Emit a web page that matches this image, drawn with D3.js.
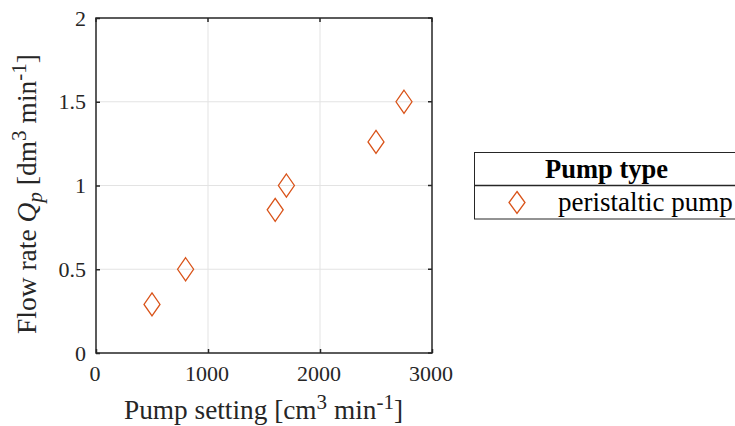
<!DOCTYPE html>
<html><head><meta charset="utf-8">
<script src="https://cdn.jsdelivr.net/npm/d3@7"></script>
<style>body{margin:0;background:#fff}svg{display:block;font-family:"Liberation Serif","Times New Roman",serif}</style>
</head><body>
<svg id="c" width="735" height="426"></svg>
<script>
const pumpSetting = [500, 800, 1600, 1700, 2500, 2750];
const flowRate = [0.29, 0.50, 0.855, 1.0, 1.26, 1.50];
const xTicks = [0, 1000, 2000, 3000];
const yTicks = [0, 0.5, 1, 1.5, 2];
const seriesName = "peristaltic pump";
const legendTitle = "Pump type";

const svg = d3.select("#c");
const L = 96, R = 432, T = 18, B = 353;
const x = d3.scaleLinear().domain([0, 3000]).range([L, R]);
const y = d3.scaleLinear().domain([0, 2]).range([B, T]);
const col = "#d95319", ink = "#262626";

// grid
svg.append("g").selectAll("line").data(xTicks.slice(1, -1)).join("line")
  .attr("x1", d => x(d)).attr("x2", d => x(d)).attr("y1", T).attr("y2", B)
  .attr("stroke", "#e3e3e3").attr("stroke-width", 1);
svg.append("g").selectAll("line").data(yTicks.slice(1, -1)).join("line")
  .attr("y1", d => y(d)).attr("y2", d => y(d)).attr("x1", L).attr("x2", R)
  .attr("stroke", "#e3e3e3").attr("stroke-width", 1);

// axes
const xa = svg.append("g").attr("transform", `translate(0,${B})`)
  .call(d3.axisBottom(x).tickValues(xTicks).tickSize(-4).tickPadding(12).tickFormat(d3.format("d")));
const ya = svg.append("g").attr("transform", `translate(${L},0)`)
  .call(d3.axisLeft(y).tickValues(yTicks).tickSize(-4).tickPadding(10).tickFormat(d => d));
[xa, ya].forEach(a => {
  a.select(".domain").remove();
  a.selectAll("line").attr("stroke", ink).attr("stroke-width", 1.5);
  a.selectAll("text").attr("font-family", "Liberation Serif").attr("font-size", 22).attr("fill", ink);
});
xa.selectAll("text").attr("dx", -1.5);
// box
svg.append("rect").attr("x", L).attr("y", T).attr("width", R - L).attr("height", B - T)
  .attr("fill", "none").attr("stroke", ink).attr("stroke-width", 1.5);
// right/top ticks
svg.append("g").selectAll("line").data(xTicks).join("line")
  .attr("x1", d => x(d)).attr("x2", d => x(d)).attr("y1", T).attr("y2", T + 4).attr("stroke", ink).attr("stroke-width", 1.5);
svg.append("g").selectAll("line").data(yTicks).join("line")
  .attr("y1", d => y(d)).attr("y2", d => y(d)).attr("x1", R - 4).attr("x2", R).attr("stroke", ink).attr("stroke-width", 1.5);

// markers
const diamond = (cx, cy, hw, hh) => `M${cx},${cy - hh}L${cx + hw},${cy}L${cx},${cy + hh}L${cx - hw},${cy}Z`;
svg.append("g").selectAll("path").data(pumpSetting).join("path")
  .attr("d", (d, i) => diamond(x(d), y(flowRate[i]), 8, 11.5))
  .attr("fill", "none").attr("stroke", col).attr("stroke-width", 1.3);

// axis labels
const xl = svg.append("text").attr("x", 263.5).attr("y", 419).attr("text-anchor", "middle")
  .attr("font-size", 27.3).attr("fill", ink);
xl.append("tspan").text("Pump setting [cm");
xl.append("tspan").attr("dy", -10).attr("font-size", 21).text("3");
xl.append("tspan").attr("dy", 10).text(" min");
xl.append("tspan").attr("dy", -10).attr("font-size", 21).text("-1");
xl.append("tspan").attr("dy", 10).text("]");

const yl = svg.append("text").attr("transform", `translate(36,194) rotate(-90)`)
  .attr("text-anchor", "middle").attr("font-size", 27.5).attr("fill", ink);
yl.append("tspan").text("Flow rate ");
yl.append("tspan").attr("font-style", "italic").text("Q");
yl.append("tspan").attr("font-style", "italic").attr("dy", 6).attr("font-size", 21).text("p");
yl.append("tspan").attr("dy", -6).text(" [dm");
yl.append("tspan").attr("dy", -10).attr("font-size", 21).text("3");
yl.append("tspan").attr("dy", 10).text(" min");
yl.append("tspan").attr("dy", -10).attr("font-size", 21).text("-1");
yl.append("tspan").attr("dy", 10).text("]");

// legend
const lg = svg.append("g");
const lx = 474.5, ly = 152.5, lw = 262, lh = 66.5, ld = 185.5;
lg.append("rect").attr("x", lx).attr("y", ly).attr("width", lw).attr("height", lh)
  .attr("fill", "#fff").attr("stroke", ink).attr("stroke-width", 1);
lg.append("line").attr("x1", lx).attr("x2", lx + lw).attr("y1", ld).attr("y2", ld).attr("stroke", ink).attr("stroke-width", 1.5);
lg.append("text").attr("x", 606.5).attr("y", 178).attr("text-anchor", "middle")
  .attr("font-weight", "bold").attr("font-size", 26.5).attr("fill", "#000").text(legendTitle);
lg.append("path").attr("d", diamond(517, 202.5, 8, 11)).attr("fill", "none").attr("stroke", col).attr("stroke-width", 1.3);
lg.append("text").attr("x", 558).attr("y", 211).attr("font-size", 27).attr("fill", "#000").text(seriesName);
</script>
</body></html>
